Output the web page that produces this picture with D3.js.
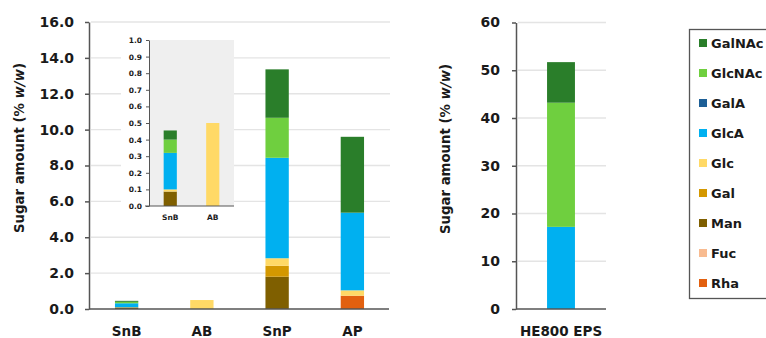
<!DOCTYPE html>
<html><head><meta charset="utf-8">
<script src="https://cdn.jsdelivr.net/npm/d3@7"></script>
<style>
html,body{margin:0;padding:0;background:#fff;}
svg{display:block;}
text{font-family:"DejaVu Sans",sans-serif;font-weight:bold;fill:#1a1a1a;}
</style></head>
<body>
<svg id="c" width="766" height="338"></svg>
<script>
// ---- data ----
const sugars = ["GalNAc","GlcNAc","GalA","GlcA","Glc","Gal","Man","Fuc","Rha"];
const colors = ["#2a7e2a","#6fcf3f","#1d5f96","#00b0f0","#ffd966","#d49800","#7f5f00","#f8bb90","#e2600f"];
const samples = ["SnB","AB","SnP","AP"];
const GalNAc = [0.055, 0, 2.70, 4.23];
const GlcNAc = [0.08, 0, 2.23, 0];
const GalA   = [0, 0, 0, 0];
const GlcA   = [0.22, 0, 5.60, 4.33];
const Glc    = [0.013, 0.50, 0.42, 0.30];
const Gal    = [0, 0, 0.61, 0];
const Man    = [0.087, 0, 1.80, 0];
const Fuc    = [0, 0, 0, 0];
const Rha    = [0, 0, 0, 0.74];
const insetSamples = ["SnB","AB"];
const epsSamples = ["HE800 EPS"];
const epsValues = {GalNAc:[8.5], GlcNAc:[26.0], GalA:[0], GlcA:[17.2], Glc:[0], Gal:[0], Man:[0], Fuc:[0], Rha:[0]};
const mainTicks = [0,2,4,6,8,10,12,14,16];
const insetTicks = [0,0.1,0.2,0.3,0.4,0.5,0.6,0.7,0.8,0.9,1.0];
const epsTicks = [0,10,20,30,40,50,60];

const series = {GalNAc,GlcNAc,GalA,GlcA,Glc,Gal,Man,Fuc,Rha};
const color = d3.scaleOrdinal(sugars, colors);
const stackOrder = sugars.slice().reverse(); // bottom to top

function rows(names, src){
  return names.map((s,i)=>{const r={sample:s}; sugars.forEach(k=>r[k]=src[k][i]); return r;});
}
const stack = d3.stack().keys(stackOrder);

const svg = d3.select("#c");
const axisCol = "#555";
const gridCol = "#e4e4e4";

function drawChart(g, names, src, xr, yr, dom, ticks, fmt, opts){
  const x = d3.scaleBand().domain(names).range(xr).paddingInner(opts.pi).paddingOuter(opts.po);
  const y = d3.scaleLinear().domain(dom).range(yr);
  if(opts.bg){
    g.append("rect").attr("x",opts.bg[0]).attr("y",opts.bg[1]).attr("width",opts.bg[2]).attr("height",opts.bg[3]).attr("fill","#fff");
    g.append("rect").attr("x",xr[0]).attr("y",yr[1]).attr("width",xr[1]-xr[0]).attr("height",yr[0]-yr[1]).attr("fill","#efefef");
  }
  if(opts.grid){
    g.selectAll(".grid").data(ticks.filter(t=>t>0)).join("line")
      .attr("x1",xr[0]+2).attr("x2",opts.gridEnd).attr("y1",d=>y(d)).attr("y2",d=>y(d))
      .attr("stroke",gridCol).attr("stroke-width",1.3);
  }
  const data = stack(rows(names, src));
  g.selectAll(".layer").data(data).join("g").attr("fill",d=>color(d.key))
    .selectAll("rect").data(d=>d).join("rect")
    .attr("x",d=>x(d.data.sample)).attr("width",x.bandwidth())
    .attr("y",d=>y(d[1])).attr("height",d=>Math.max(0,y(d[0])-y(d[1])));
  const ya = g.append("g").attr("transform",`translate(${xr[0]},0)`)
    .call(d3.axisLeft(y).tickValues(ticks).tickFormat(fmt).tickSize(opts.ts).tickPadding(opts.tp).tickSizeOuter(0));
  ya.select(".domain").attr("stroke",axisCol).attr("stroke-width",opts.sw);
  ya.selectAll(".tick line").attr("stroke",axisCol).attr("stroke-width",opts.sw);
  ya.selectAll("text").style("font-size",opts.fs+"px").attr("fill","#1a1a1a");
  const xa = g.append("g").attr("transform",`translate(0,${yr[0]})`)
    .call(d3.axisBottom(x).tickSize(0).tickPadding(opts.xp).tickSizeOuter(0));
  xa.select(".domain").attr("stroke",axisCol).attr("stroke-width",opts.sw).attr("d",`M${xr[0]-opts.xl},0H${opts.xEnd}`);
  xa.selectAll("text").style("font-size",opts.xfs+"px").attr("fill","#1a1a1a").attr("dy","0.71em");
  return {x,y};
}

// main chart
drawChart(svg.append("g"), samples, series, [89,390], [309,22], [0,16], mainTicks, d3.format(".1f"),
  {pi:0.69, po:0.345, grid:true, gridEnd:390, ts:4, tp:11, sw:1.5, fs:14, xp:17, xfs:13.5, xl:0, xEnd:389});

// inset
drawChart(svg.append("g"), insetSamples, series, [149,234], [206,40], [0,1], insetTicks, d3.format(".1f"),
  {pi:0.69, po:0.345, bg:[121,33,113,195], grid:false, ts:3, tp:4, sw:1, fs:7.5, xp:9, xfs:7.5, xl:4, xEnd:234});

// EPS chart
drawChart(svg.append("g"), epsSamples, epsValues, [516,606], [309,22.5], [0,60], epsTicks, d3.format("d"),
  {pi:0.69, po:0.345, grid:true, gridEnd:606, ts:4, tp:12, sw:1.5, fs:14, xp:17, xfs:13.5, xl:0, xEnd:606});

// axis titles
function yTitle(x, y){
  const t = svg.append("text").attr("transform",`translate(${x},${y}) rotate(-90)`)
    .attr("text-anchor","middle").style("font-size","13.3px");
  t.append("tspan").text("Sugar amount (% ");
  t.append("tspan").style("font-style","italic").text("w/w");
  t.append("tspan").text(")");
}
yTitle(24,148);
yTitle(450,149);

// legend
const lg = svg.append("g");
lg.append("rect").attr("x",689.5).attr("y",29.5).attr("width",120).attr("height",269)
  .attr("fill","#fff").attr("stroke","#555").attr("stroke-width",1.3);
const items = lg.selectAll(".it").data(sugars).join("g")
  .attr("transform",(d,i)=>`translate(699,${43+i*30})`);
items.append("rect").attr("x",0).attr("y",-4).attr("width",8).attr("height",8).attr("fill",d=>color(d));
items.append("text").attr("x",12).attr("y",0).attr("dy","0.36em").style("font-size","13px").text(d=>d);
</script>
</body></html>
